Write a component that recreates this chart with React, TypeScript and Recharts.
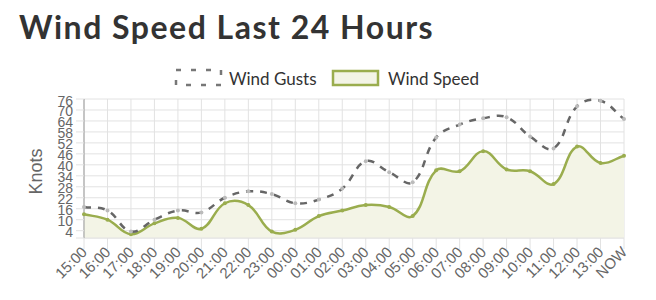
import React from "react";
import { ComposedChart, Area, Line, XAxis, YAxis, CartesianGrid } from "recharts";

const hours = [
  "15:00", "16:00", "17:00", "18:00", "19:00", "20:00", "21:00", "22:00",
  "23:00", "00:00", "01:00", "02:00", "03:00", "04:00", "05:00", "06:00",
  "07:00", "08:00", "09:00", "10:00", "11:00", "12:00", "13:00", "NOW",
];
const windSpeed = [13, 10, 2, 8, 11, 5, 19, 18, 3.5, 4.5, 12, 15, 18, 17, 12, 37, 36.5, 47.5, 37.5, 36.5, 29.5, 50, 41, 45];
const windGusts = [17, 15, 3.5, 10, 15, 14, 22, 25.5, 24, 19, 21, 27, 42, 36, 30.5, 55, 62, 65.5, 66, 55.5, 49, 72, 75, 65];
const yTicks = [0, 4, 10, 16, 22, 28, 34, 40, 46, 52, 58, 64, 70, 76];

const data = hours.map((hour, i) => ({ hour, speed: windSpeed[i], gusts: windGusts[i] }));

const GREEN = "#9aad4e";
const GREEN_FILL = "#f3f4e6";
const GUST = "#666";
const TEXT = "#666";
const AXIS_FONT = "'Liberation Sans', Arial, sans-serif";

// chart.js style spline (tension 0.4), computed in pixel space
function splineCurve(context: any) {
  let pts: number[][] = [];
  let line = NaN;
  const t = 0.4;
  return {
    areaStart() { line = 0; },
    areaEnd() { line = NaN; },
    lineStart() { pts = []; },
    point(x: number, y: number) { pts.push([+x, +y]); },
    lineEnd() {
      const n = pts.length;
      if (n) {
        if (line) context.lineTo(pts[0][0], pts[0][1]);
        else context.moveTo(pts[0][0], pts[0][1]);
        const cps = pts.map((p, i) => {
          const a = pts[i - 1] || p;
          const b = pts[i + 1] || p;
          const d01 = Math.hypot(p[0] - a[0], p[1] - a[1]);
          const d12 = Math.hypot(b[0] - p[0], b[1] - p[1]);
          let s01 = d01 / (d01 + d12);
          let s12 = d12 / (d01 + d12);
          if (isNaN(s01)) s01 = 0;
          if (isNaN(s12)) s12 = 0;
          const fa = t * s01;
          const fb = t * s12;
          return {
            prev: [p[0] - fa * (b[0] - a[0]), p[1] - fa * (b[1] - a[1])],
            next: [p[0] + fb * (b[0] - a[0]), p[1] + fb * (b[1] - a[1])],
          };
        });
        for (let i = 0; i < n - 1; i++) {
          const c1 = cps[i].next;
          const c2 = cps[i + 1].prev;
          context.bezierCurveTo(c1[0], c1[1], c2[0], c2[1], pts[i + 1][0], pts[i + 1][1]);
        }
      }
      if (line || (line !== 0 && n === 1)) context.closePath();
      line = 1 - line;
    },
  };
}

const XTick = ({ x, y, payload }: any) => (
  <text
    x={x + 4}
    y={y + 2}
    transform={`rotate(-45, ${x + 4}, ${y + 2})`}
    textAnchor="end"
    fontSize={15}
    fontFamily={AXIS_FONT}
    fill={TEXT}
  >
    {payload.value}
  </text>
);

const YTick = ({ x, y, payload }: any) =>
  payload.value === 0 ? null : (
    <text x={x} y={y} dy={6.5} textAnchor="end" fontSize={14} fontFamily={AXIS_FONT} fill={TEXT}>
      {payload.value}
    </text>
  );

export default function App() {
  return (
    <div style={{ position: "relative", width: 656, height: 300, background: "#fff" }}>
      <style>{`body{margin:0}`}</style>
      <div
        style={{
          position: "absolute",
          left: 19,
          top: 7,
          fontFamily: "Lato, sans-serif",
          fontWeight: 700,
          fontSize: 32,
          letterSpacing: 1.5,
          color: "#333",
          whiteSpace: "nowrap",
        }}
      >
        Wind Speed Last 24 Hours
      </div>
      <svg width={656} height={100} style={{ position: "absolute", left: 0, top: 0 }}>
        <rect x={176} y={70} width={45} height={15} fill="none" stroke="#777" strokeWidth={2.5} strokeDasharray="5 10" />
        <text x={229} y={85} fontFamily="Lato, sans-serif" fontSize={17} fill="#333">Wind Gusts</text>
        <rect x={333} y={71} width={45} height={14} fill={GREEN_FILL} stroke={GREEN} strokeWidth={2.5} />
        <text x={388} y={85} fontFamily="Lato, sans-serif" fontSize={17} fill="#333">Wind Speed</text>
      </svg>
      <div style={{ position: "absolute", left: 0, top: 0 }}>
        <ComposedChart width={656} height={300} data={data} margin={{ top: 99, right: 32, left: 24, bottom: 0 }}>
          <CartesianGrid stroke="#e2e2e2" strokeWidth={1} />
          <XAxis
            dataKey="hour"
            interval={0}
            height={62}
            tickSize={11}
            tickMargin={2}
            tickLine={{ stroke: "#e2e2e2" }}
            axisLine={{ stroke: "#e2e2e2" }}
            tick={<XTick />}
          />
          <YAxis
            width={60}
            domain={[0, 76]}
            ticks={yTicks}
            interval={0}
            tickSize={8}
            tickMargin={3}
            tickLine={{ stroke: "#e2e2e2" }}
            axisLine={{ stroke: "#999" }}
            tick={<YTick />}
            label={{
              value: "Knots",
              angle: -90,
              position: "insideLeft",
              dx: 7,
              dy: 3,
              style: { fontSize: 18, fill: TEXT, fontFamily: AXIS_FONT, textAnchor: "middle" },
            }}
          />
          <Area
            dataKey="speed"
            type={splineCurve as any}
            stroke={GREEN}
            strokeWidth={2.5}
            fill={GREEN_FILL}
            fillOpacity={1}
            dot={{ r: 2, fill: GREEN, stroke: "none" }}
            activeDot={false}
            isAnimationActive={false}
          />
          <Line
            dataKey="gusts"
            type={splineCurve as any}
            stroke={GUST}
            strokeWidth={2.5}
            strokeDasharray="7 7"
            dot={{ r: 2, fill: "#bbb", stroke: "none" }}
            activeDot={false}
            isAnimationActive={false}
          />
        </ComposedChart>
      </div>
    </div>
  );
}
